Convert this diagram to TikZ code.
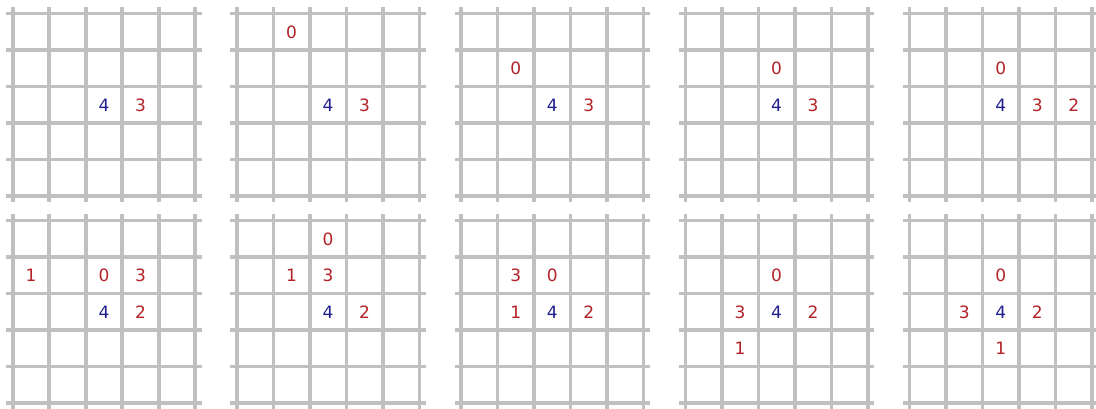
\documentclass[tikz,border=0pt]{standalone}
\usepackage{fontspec}
\setmainfont{DejaVu Sans}
\definecolor{gridgray}{RGB}{192,192,192}
\definecolor{digred}{RGB}{178,34,40}
\definecolor{digblue}{RGB}{30,30,140}
\tikzset{
  gridline/.style={draw=gridgray, line width=3.6pt},
  digit/.style={inner sep=0pt, font=\fontsize{17}{17}\selectfont},
  rd/.style={digit, text=digred},
  bd/.style={digit, text=digblue},
}
\newcommand{\panelgrid}{%
  \foreach \k in {0,...,5} {
    \draw[gridline] (-6.5,{36.5*\k}) -- (189,{36.5*\k});
    \draw[gridline] ({36.5*\k},-6.5) -- ({36.5*\k},189);
  }%
}
% cell centre: column #1, row #2
\newcommand{\cc}[2]{({36.5*#1+18.25},{36.5*#2+18.5})}
\begin{document}
\begin{tikzpicture}[x=1pt,y=-1pt]
\useasboundingbox (0,0) rectangle (1096,409);
\fill[white] (0,0) rectangle (1096,409);
% ---------- top row ----------
\begin{scope}[shift={(12.7,13.5)}]
  \panelgrid
  \node[bd] (a4) at \cc{2}{2} {4};
  \node[rd] (a3) at \cc{3}{2} {3};
\end{scope}
\begin{scope}[shift={(236.9,13.5)}]
  \panelgrid
  \node[rd] (b0) at \cc{1}{0} {0};
  \node[bd] (b4) at \cc{2}{2} {4};
  \node[rd] (b3) at \cc{3}{2} {3};
\end{scope}
\begin{scope}[shift={(461.1,13.5)}]
  \panelgrid
  \node[rd] (c0) at \cc{1}{1} {0};
  \node[bd] (c4) at \cc{2}{2} {4};
  \node[rd] (c3) at \cc{3}{2} {3};
\end{scope}
\begin{scope}[shift={(685.3,13.5)}]
  \panelgrid
  \node[rd] (d0) at \cc{2}{1} {0};
  \node[bd] (d4) at \cc{2}{2} {4};
  \node[rd] (d3) at \cc{3}{2} {3};
\end{scope}
\begin{scope}[shift={(909.5,13.5)}]
  \panelgrid
  \node[rd] (e0) at \cc{2}{1} {0};
  \node[bd] (e4) at \cc{2}{2} {4};
  \node[rd] (e3) at \cc{3}{2} {3};
  \node[rd] (e2) at \cc{4}{2} {2};
\end{scope}
% ---------- bottom row ----------
\begin{scope}[shift={(12.7,220.5)}]
  \panelgrid
  \node[rd] (f1) at \cc{0}{1} {1};
  \node[rd] (f0) at \cc{2}{1} {0};
  \node[rd] (f3) at \cc{3}{1} {3};
  \node[bd] (f4) at \cc{2}{2} {4};
  \node[rd] (f2) at \cc{3}{2} {2};
\end{scope}
\begin{scope}[shift={(236.9,220.5)}]
  \panelgrid
  \node[rd] (g0) at \cc{2}{0} {0};
  \node[rd] (g1) at \cc{1}{1} {1};
  \node[rd] (g3) at \cc{2}{1} {3};
  \node[bd] (g4) at \cc{2}{2} {4};
  \node[rd] (g2) at \cc{3}{2} {2};
\end{scope}
\begin{scope}[shift={(461.1,220.5)}]
  \panelgrid
  \node[rd] (h3) at \cc{1}{1} {3};
  \node[rd] (h0) at \cc{2}{1} {0};
  \node[rd] (h1) at \cc{1}{2} {1};
  \node[bd] (h4) at \cc{2}{2} {4};
  \node[rd] (h2) at \cc{3}{2} {2};
\end{scope}
\begin{scope}[shift={(685.3,220.5)}]
  \panelgrid
  \node[rd] (i0) at \cc{2}{1} {0};
  \node[rd] (i3) at \cc{1}{2} {3};
  \node[bd] (i4) at \cc{2}{2} {4};
  \node[rd] (i2) at \cc{3}{2} {2};
  \node[rd] (i1) at \cc{1}{3} {1};
\end{scope}
\begin{scope}[shift={(909.5,220.5)}]
  \panelgrid
  \node[rd] (j0) at \cc{2}{1} {0};
  \node[rd] (j3) at \cc{1}{2} {3};
  \node[bd] (j4) at \cc{2}{2} {4};
  \node[rd] (j2) at \cc{3}{2} {2};
  \node[rd] (j1) at \cc{2}{3} {1};
\end{scope}
\end{tikzpicture}
\end{document}
